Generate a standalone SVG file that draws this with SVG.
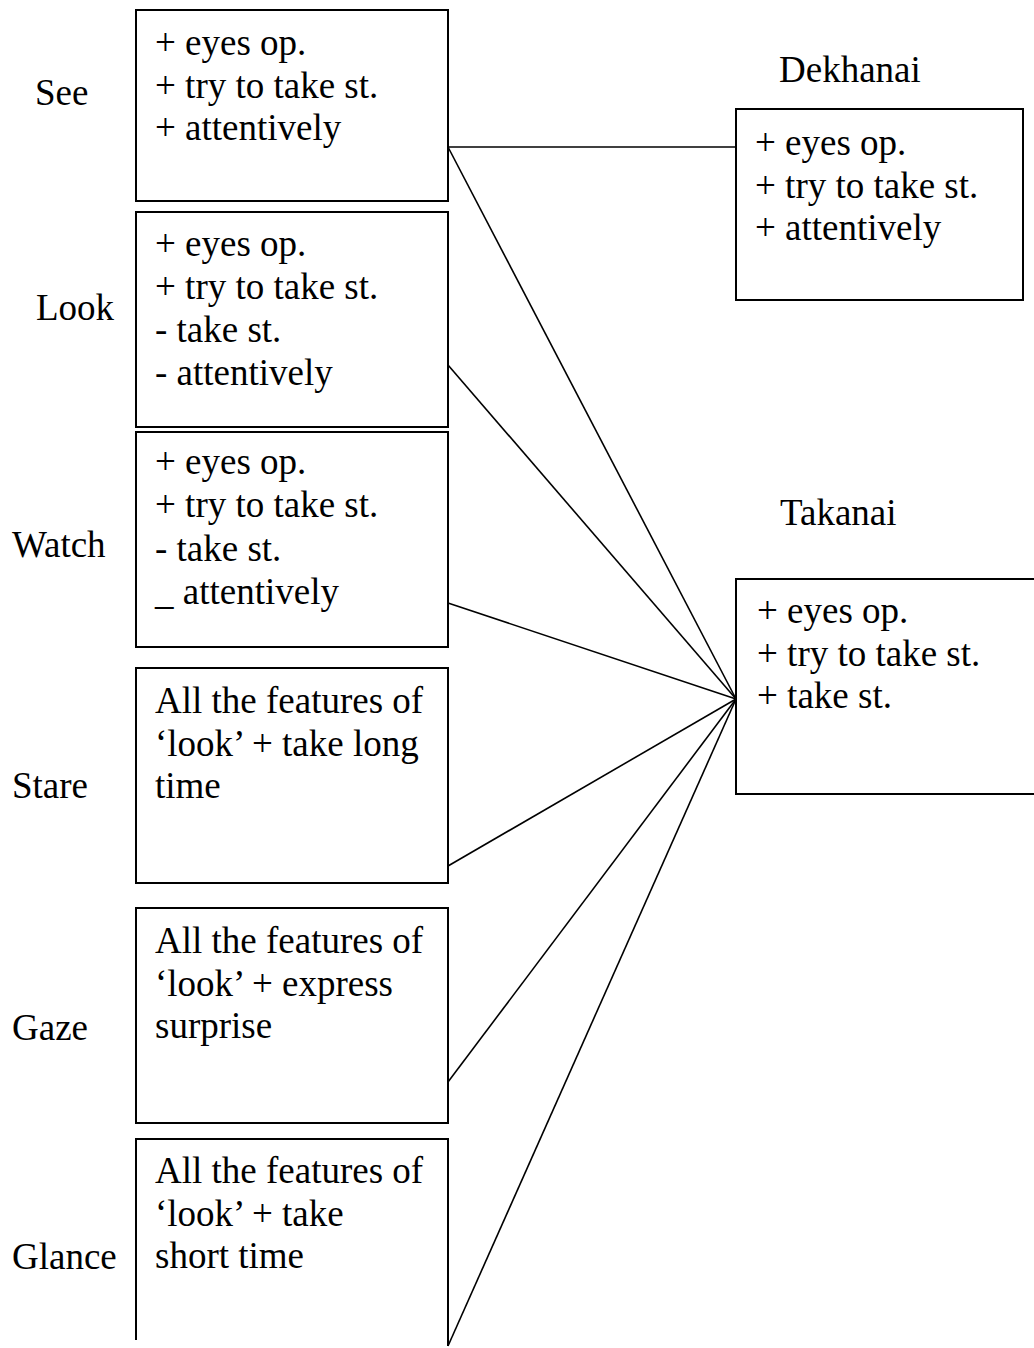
<svg xmlns="http://www.w3.org/2000/svg" width="1034" height="1348" viewBox="0 0 1034 1348">
  <style>
    .box { fill: #fff; stroke: #000; stroke-width: 2; }
    .open { fill: none; stroke: #000; stroke-width: 2; }
    .link { stroke: #000; stroke-width: 1.6; fill: none; }
    text { font-family: "Liberation Serif", "Times New Roman", serif; font-size: 37px; fill: #000; }
  </style>
  <rect width="1034" height="1348" fill="#fff"/>

  <!-- connectors: See to Dekhanai, all verbs to Takanai -->
  <g id="connectors">
    <line class="link" x1="448" y1="147" x2="736" y2="147"/>
    <line class="link" x1="448" y1="147" x2="736" y2="699"/>
    <line class="link" x1="448" y1="365" x2="736" y2="699"/>
    <line class="link" x1="448" y1="603" x2="736" y2="699"/>
    <line class="link" x1="448" y1="866" x2="736" y2="699"/>
    <line class="link" x1="448" y1="1082" x2="736" y2="699"/>
    <line class="link" x1="448" y1="1346" x2="736" y2="699"/>
  </g>

  <g id="see">
    <text x="35" y="105">See</text>
    <rect class="box" x="136" y="10" width="312" height="191"/>
    <text x="155" y="55">+ eyes op.</text>
    <text x="155" y="98">+ try to take st.</text>
    <text x="155" y="140">+ attentively</text>
  </g>

  <g id="look">
    <text x="36" y="320">Look</text>
    <rect class="box" x="136" y="212" width="312" height="215"/>
    <text x="155" y="256">+ eyes op.</text>
    <text x="155" y="299">+ try to take st.</text>
    <text x="155" y="342">- take st.</text>
    <text x="155" y="385">- attentively</text>
  </g>

  <g id="watch">
    <text x="12" y="557">Watch</text>
    <rect class="box" x="136" y="432" width="312" height="215"/>
    <text x="155" y="474">+ eyes op.</text>
    <text x="155" y="517">+ try to take st.</text>
    <text x="155" y="561">- take st.</text>
    <text x="155" y="604">_ attentively</text>
  </g>

  <g id="stare">
    <text x="12" y="798">Stare</text>
    <rect class="box" x="136" y="668" width="312" height="215"/>
    <text x="155" y="713">All the features of</text>
    <text x="155" y="756">‘look’ + take long</text>
    <text x="155" y="798">time</text>
  </g>

  <g id="gaze">
    <text x="12" y="1040">Gaze</text>
    <rect class="box" x="136" y="908" width="312" height="215"/>
    <text x="155" y="953">All the features of</text>
    <text x="155" y="996">‘look’ + express</text>
    <text x="155" y="1038">surprise</text>
  </g>

  <g id="glance">
    <text x="12" y="1269">Glance</text>
    <path class="open" d="M136,1340 V1139 H448 V1346"/>
    <text x="155" y="1183">All the features of</text>
    <text x="155" y="1226">‘look’ + take</text>
    <text x="155" y="1268">short time</text>
  </g>

  <g id="dekhanai">
    <text x="779" y="82">Dekhanai</text>
    <rect class="box" x="736" y="109" width="287" height="191"/>
    <text x="755" y="155">+ eyes op.</text>
    <text x="755" y="198">+ try to take st.</text>
    <text x="755" y="240">+ attentively</text>
  </g>

  <g id="takanai">
    <text x="780" y="525">Takanai</text>
    <path class="open" d="M1036,579 H736 V794 H1036"/>
    <text x="757" y="623">+ eyes op.</text>
    <text x="757" y="666">+ try to take st.</text>
    <text x="757" y="708">+ take st.</text>
  </g>
</svg>
